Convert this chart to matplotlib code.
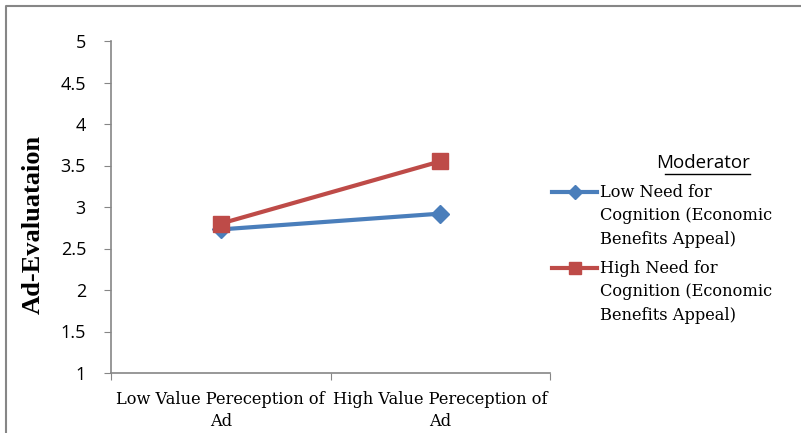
import matplotlib
matplotlib.use("Agg")
import matplotlib.pyplot as plt
from matplotlib.lines import Line2D

categories = ["Low Value Pereception of\nAd", "High Value Pereception of\nAd"]
low_need = [2.73, 2.92]
high_need = [2.80, 3.55]
series_names = ["Low Need for\nCognition (Economic\nBenefits Appeal)",
                "High Need for\nCognition (Economic\nBenefits Appeal)"]
yticks = [1, 1.5, 2, 2.5, 3, 3.5, 4, 4.5, 5]

W, H = 801, 433
blue, red = "#4A7EBB", "#BE4B48"

fig = plt.figure(figsize=(W / 100, H / 100), dpi=100)
ax = fig.add_axes([111 / W, 1 - 373 / H, 439 / W, 332 / H])

xs = [0.5, 1.5]
ax.plot(xs, low_need, color=blue, lw=3, marker="D", ms=9, solid_capstyle="butt")
ax.plot(xs, high_need, color=red, lw=3, marker="s", ms=11.5, solid_capstyle="butt")

ax.set_xlim(0, 2)
ax.set_ylim(1, 5)
ax.set_yticks(yticks)
ax.set_yticklabels([f"{v:g}" for v in yticks], fontfamily="Open Sans", fontsize=13)
ax.set_xticks([0, 1, 2])
ax.set_xticklabels([])
ax.set_xticks(xs, minor=True)
ax.set_xticklabels(categories, minor=True, fontfamily="DejaVu Serif", fontsize=11.7,
                   linespacing=1.4)
ax.tick_params(axis="x", which="minor", length=0, pad=13)
ax.tick_params(axis="x", which="major", length=5, color="#868686", direction="out")
ax.tick_params(axis="y", length=5, color="#868686", direction="out", pad=13)

for side in ["top", "right"]:
    ax.spines[side].set_visible(False)
for side in ["left", "bottom"]:
    ax.spines[side].set_color("#868686")
    ax.spines[side].set_linewidth(1.2)

fig.text(33 / W, 1 - 224 / H, "Ad-Evaluataion", fontfamily="Liberation Serif",
         fontweight="bold", fontsize=19, rotation=90, ha="center", va="center")

# legend, built by hand so the handle sits on the first label line
fig.text(750 / W, 1 - 163 / H, "Moderator", fontfamily="Open Sans", fontsize=13.5,
         ha="right", va="center")
fig.add_artist(Line2D([665 / W, 750 / W], [1 - 174 / H, 1 - 174 / H],
                      color="black", lw=1))
for name, col, mk, ms, yfirst in [(series_names[0], blue, "D", 7, 191.7),
                                  (series_names[1], red, "s", 9, 267.7)]:
    yc = 1 - yfirst / H
    fig.add_artist(Line2D([552 / W, 597 / W], [yc, yc], color=col, lw=3))
    fig.add_artist(Line2D([574.5 / W], [yc], color=col, marker=mk, ms=ms))
    fig.text(600 / W, 1 - (yfirst - 8) / H, name, fontfamily="DejaVu Serif",
             fontsize=11.7, ha="left", va="top", linespacing=1.52)

# chart frame
fig.add_artist(Line2D([6 / W, 6 / W, 1], [0, 1 - 6 / H, 1 - 6 / H],
                      color="#868686", lw=1.5))

fig.savefig("out.png", dpi=100)
